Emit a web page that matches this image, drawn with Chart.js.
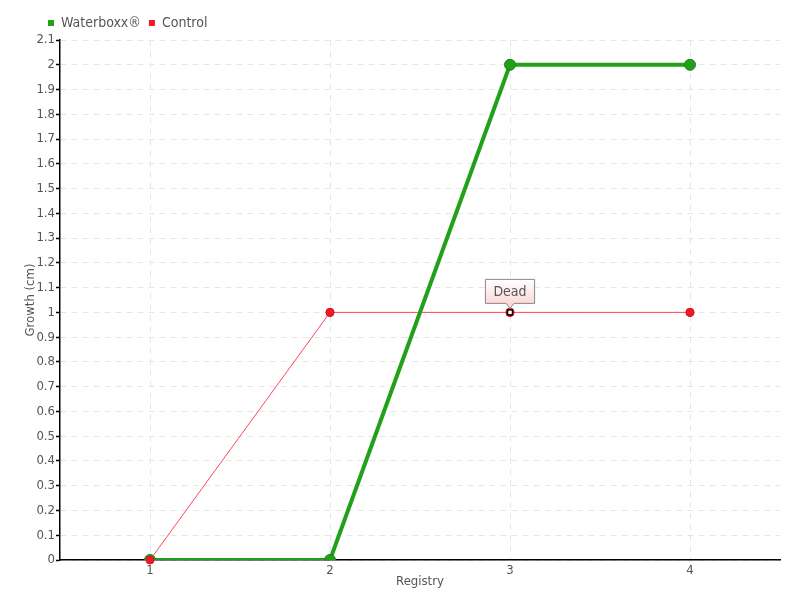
<!DOCTYPE html>
<html>
<head>
<meta charset="utf-8">
<script src="https://cdn.jsdelivr.net/npm/chart.js@4/dist/chart.umd.min.js"></script>
<style>
  html, body { margin: 0; padding: 0; background: #fff; }
  #wrap { width: 800px; height: 600px; }
</style>
</head>
<body>
<div id="wrap"><canvas id="myChart"></canvas></div>
<script>
// values
const registry = ['1', '2', '3', '4'];
const waterboxx = [0, 0, 2, 2];
const control = [0, 1, 1, 1];
// point notes on the control series (index -> text)
const controlNotes = [null, null, 'Dead', null];

const FONT = '"DejaVu Sans Condensed", "Liberation Sans Narrow", sans-serif';
const GREEN = 'rgb(34, 160, 26)';
const RED = 'rgb(240, 24, 40)';

Chart.defaults.font.family = FONT;
Chart.defaults.color = '#555';

// legend sits further right, and control points go on top of the green ones
const tweaks = {
    id: 'tweaks',
    afterLayout(chart) {
        chart.legend.left = 40;
    },
    afterDatasetsDraw(chart) {
        const ctx = chart.ctx;
        const redMeta = chart.getDatasetMeta(1);
        redMeta.data.forEach(p => p.draw(ctx));

        controlNotes.forEach((note, i) => {
            if (!note) return;
            const pt = redMeta.data[i];
            const x = pt.x, y = pt.y;

            // white square marker
            ctx.save();
            ctx.fillStyle = '#fff';
            ctx.strokeStyle = '#000';
            ctx.lineWidth = 1.5;
            ctx.fillRect(x - 2.5, y - 2.5, 5, 5);
            ctx.strokeRect(x - 2.5, y - 2.5, 5, 5);

            // label box with little pointer
            ctx.font = '14px ' + FONT;
            const w = ctx.measureText(note).width + 16;
            const h = 24;
            const bx = x - w / 2, by = y - 33;
            const grad = ctx.createLinearGradient(0, by, 0, by + h);
            grad.addColorStop(0, '#ffffff');
            grad.addColorStop(1, '#fdd8d8');
            ctx.beginPath();
            ctx.moveTo(bx, by);
            ctx.lineTo(bx + w, by);
            ctx.lineTo(bx + w, by + h);
            ctx.lineTo(x + 4, by + h);
            ctx.lineTo(x, by + h + 5);
            ctx.lineTo(x - 4, by + h);
            ctx.lineTo(bx, by + h);
            ctx.closePath();
            ctx.fillStyle = grad;
            ctx.fill();
            ctx.strokeStyle = '#888';
            ctx.lineWidth = 1;
            ctx.stroke();
            ctx.fillStyle = '#555';
            ctx.textAlign = 'center';
            ctx.textBaseline = 'middle';
            ctx.fillText(note, x, by + h / 2 + 1);
            ctx.restore();
        });
    }
};

const myChart = new Chart(document.getElementById('myChart'), {
    type: 'line',
    data: {
        labels: registry,
        datasets: [{
            label: 'Waterboxx®',
            data: waterboxx,
            borderColor: GREEN,
            backgroundColor: GREEN,
            borderWidth: 4,
            pointRadius: 5.5,
            pointBackgroundColor: GREEN,
            pointBorderColor: 'rgb(30, 130, 20)',
            pointBorderWidth: 1,
            tension: 0
        },
        {
            label: 'Control',
            data: control,
            borderColor: 'rgb(255, 70, 90)',
            backgroundColor: RED,
            borderWidth: 1,
            pointRadius: 4,
            pointBackgroundColor: RED,
            pointBorderColor: 'rgb(220, 20, 30)',
            pointBorderWidth: 1,
            tension: 0
        }]
    },
    options: {
        responsive: true,
        maintainAspectRatio: false,
        animation: false,
        layout: { padding: { top: 8, right: 20, left: 0, bottom: 0 } },
        plugins: {
            tooltip: { enabled: false },
            legend: {
                position: 'top',
                align: 'start',
                labels: {
                    boxWidth: 6,
                    boxHeight: 6,
                    padding: 8,
                    font: { size: 14 },
                    color: '#555',
                    generateLabels(chart) {
                        const items = Chart.defaults.plugins.legend.labels.generateLabels(chart);
                        items.forEach(it => { it.lineWidth = 0; });
                        return items;
                    }
                }
            }
        },
        scales: {
            x: {
                offset: true,
                grid: {
                    offset: false,
                    color: '#e6e6e6',
                    drawTicks: false
                },
                border: { color: '#000', width: 1.5, dash: [6, 5] },
                ticks: { padding: 3, font: { size: 13 }, color: '#555' },
                title: {
                    display: true,
                    text: 'Registry',
                    font: { size: 13 },
                    color: '#555',
                    padding: { top: 0, bottom: 11 }
                },
                afterFit(scale) { scale.height = 40; }
            },
            y: {
                min: 0,
                max: 2.1,
                grid: {
                    color: '#e6e6e6',
                    tickColor: '#000',
                    tickLength: 4,
                    tickWidth: 1.5
                },
                border: { color: '#000', width: 1.5, dash: [6, 5] },
                ticks: {
                    stepSize: 0.1,
                    autoSkip: false,
                    padding: 1,
                    font: { size: 13 },
                    color: '#555',
                    callback: v => String(Math.round(v * 10) / 10)
                },
                title: {
                    display: true,
                    text: 'Growth (cm)',
                    font: { size: 13 },
                    color: '#555',
                    padding: { top: 23, bottom: 0 }
                },
                afterFit(scale) { scale.width = 60; }
            }
        }
    },
    plugins: [tweaks]
});
</script>
</body>
</html>
